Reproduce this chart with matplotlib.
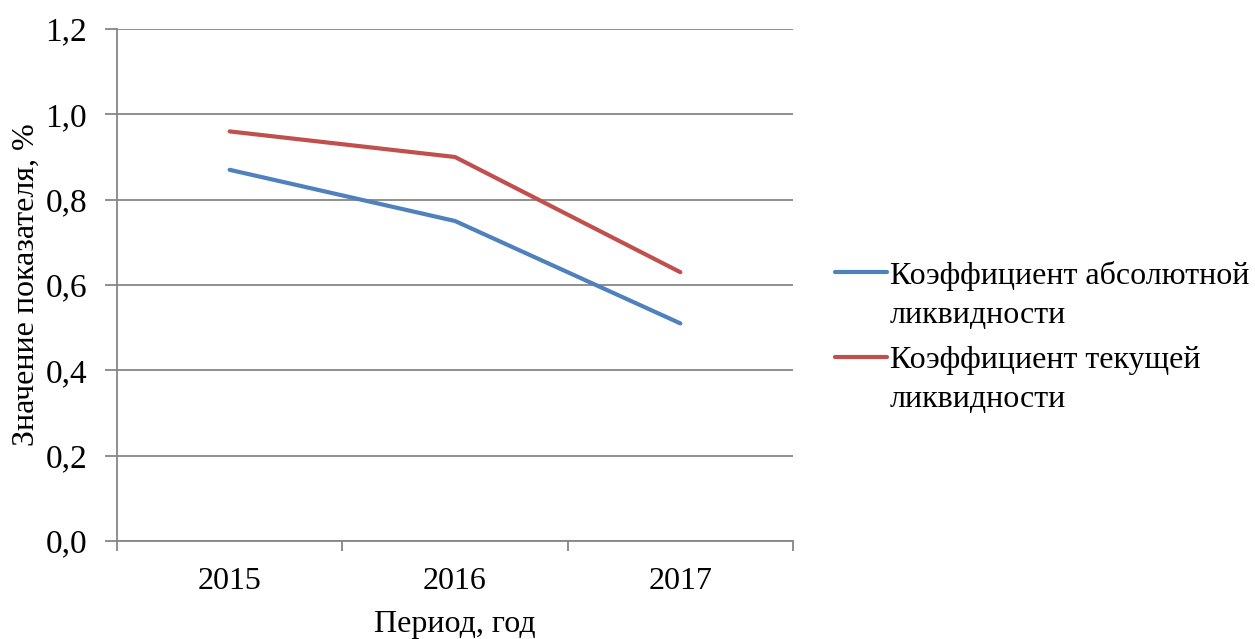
import matplotlib.pyplot as plt
from matplotlib.lines import Line2D

# Данные по коэффициентам ликвидности
years = ['2015', '2016', '2017']
abs_liquidity = [0.87, 0.75, 0.51]
cur_liquidity = [0.96, 0.90, 0.63]
series_names = ['Коэффициент абсолютной\nликвидности', 'Коэффициент текущей\nликвидности']
series_colors = ['#4F81BD', '#C0504D']

plt.rcParams['font.family'] = ['Liberation Serif', 'DejaVu Serif']
grid_color = '#868686'

fig = plt.figure(figsize=(12.55, 6.39), dpi=100)
ax = fig.add_axes([0.0932, 0.1534, 0.5387, 0.8012])

x = [i + 0.5 for i in range(len(years))]
for vals, col in zip([abs_liquidity, cur_liquidity], series_colors):
    ax.plot(x, vals, color=col, linewidth=3, solid_capstyle='round')

ax.set_xlim(0, 3)
ax.set_ylim(0, 1.2)
yt = [0, 0.2, 0.4, 0.6, 0.8, 1.0, 1.2]
ax.set_yticks(yt)
ax.set_yticklabels([f'{v:.1f}'.replace('.', ',') for v in yt], fontsize=24)
ax.yaxis.grid(True, color=grid_color, linewidth=1.3)
ax.set_axisbelow(True)

# деления оси X между категориями, подписи по центру
ax.set_xticks([0, 1, 2, 3])
ax.set_xticklabels([])
ax.set_xticks(x, minor=True)
ax.set_xticklabels(years, minor=True, fontsize=23)
ax.tick_params(axis='x', which='major', length=7, color=grid_color, width=1.3)
ax.tick_params(axis='x', which='minor', length=0, pad=19)
ax.tick_params(axis='y', length=8.5, color=grid_color, width=1.3, pad=13)

for s in ['top', 'right']:
    ax.spines[s].set_visible(False)
for s in ['left', 'bottom']:
    ax.spines[s].set_color(grid_color)
    ax.spines[s].set_linewidth(1.3)

ax.set_xlabel('Период, год', fontsize=23, labelpad=10)
ax.set_ylabel('Значение показателя, %', fontsize=23, labelpad=3)

# легенда справа от графика
leg_y = [0.574, 0.441]
for name, col, yy in zip(series_names, series_colors, leg_y):
    fig.add_artist(Line2D([0.665, 0.707], [yy, yy], color=col, linewidth=3,
                          solid_capstyle='round', transform=fig.transFigure))
    fig.text(0.709, yy + 0.018, name, fontsize=23, va='top', ha='left',
             linespacing=1.45)

fig.savefig('out.png', dpi=100)
